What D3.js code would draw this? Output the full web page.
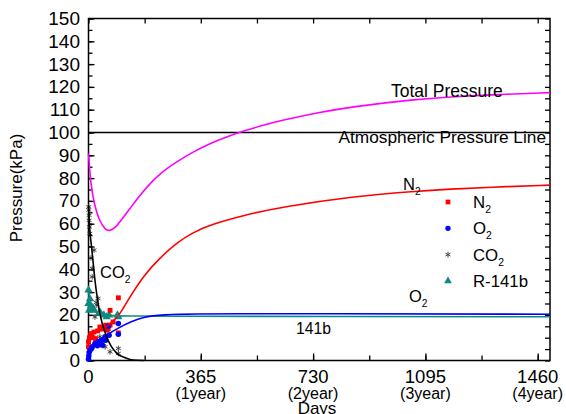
<!DOCTYPE html>
<html>
<head>
<meta charset="utf-8">
<script src="https://cdn.jsdelivr.net/npm/d3@7"></script>
<style>
body { margin: 0; background: #fff; }
text { font-family: "Liberation Sans", Arial, sans-serif; fill: #000; }
</style>
</head>
<body>
<svg id="ChartSvg" width="566" height="414"></svg>
<script>
// curves (days, kPa)
var TotalDays = [0, 7, 18, 35, 55, 68, 85, 102, 135, 167, 200, 232, 286, 340, 395, 449, 503, 568, 633, 750, 849, 1066, 1174, 1300, 1500];
var TotalP    = [90.8, 77.6, 68.9, 61.2, 57.3, 56.8, 58, 60.8, 66.7, 72.5, 77.6, 82, 87.1, 91.5, 95.2, 98.1, 100.6, 103.2, 105.5, 108.8, 111.2, 114.6, 115.6, 116.5, 117.5];
var N2Days = [40, 60, 77, 100, 113, 140, 178, 232, 286, 340, 395, 503, 633, 849, 1066, 1174, 1300, 1500];
var N2P    = [13, 15, 16.9, 20, 23, 29, 37, 45, 51.6, 56.2, 59.5, 63.7, 67.4, 71.8, 74.3, 75.2, 76, 76.9];
var O2Days = [0, 5, 18, 50, 94, 137, 180, 250, 350, 500, 800, 1500];
var O2P    = [1, 4.5, 7.5, 10.4, 14, 16.9, 18.9, 20, 20.4, 20.5, 20.5, 20.3];
var CO2Days = [0, 5, 10, 21, 37, 59, 92, 120, 145, 180];
var CO2P    = [68, 56, 49.8, 35.2, 20.6, 10.4, 3.1, 1.2, 0.2, 0];
var R141Days = [0, 5, 15, 30, 50, 80, 150, 300, 800, 1500];
var R141P    = [30.5, 26, 22.5, 20.8, 20, 19.7, 19.5, 19.4, 19.3, 19.2];
var AtmP = 100;

// measured points
var N2PtDays = [0, 0, 3, 7, 10, 14, 18, 23, 30, 37, 45, 54, 56, 61, 64, 70, 70, 80, 97, 97];
var N2PtP    = [6, 8.2, 10, 11.1, 11.8, 10, 12.5, 9.6, 13, 14.7, 13.8, 15, 15.5, 13.3, 14, 15.5, 22, 16.9, 27.5, 12.1];
var O2PtDays = [0, 1, 2, 5, 10, 12, 21, 29, 32, 43, 45, 54, 56, 64, 67, 97, 97];
var O2PtP    = [0.5, 2, 3.5, 4.5, 5.3, 6, 7.5, 6.5, 8.2, 8.9, 6.7, 10.4, 8.9, 15, 11.1, 16.2, 11.5];
var CO2PtDays = [1, 1, 2, 2, 3, 4, 8, 18, 12, 12, 31, 27, 25, 21, 37, 48, 54, 70, 97, 97];
var CO2PtP    = [67.4, 66, 63.7, 61.5, 58.6, 55.7, 45, 48.4, 40.4, 36.7, 27.2, 24.3, 25.5, 19.1, 10.4, 7.5, 6, 3.8, 5.3, 3.1];
var R141PtDays = [0, 0, 2, 5, 8, 16, 18, 34, 37, 50, 59, 67, 94, 97];
var R141PtP    = [30.9, 25, 22, 27, 24, 22.8, 22, 20.6, 21.3, 19.9, 19.1, 19.9, 19.9, 19.1];

var XTicks = [0, 365, 730, 1095, 1460];
var XTickYears = ["", "(1year)", "(2year)", "(3year)", "(4year)"];
var YTicks = [0, 10, 20, 30, 40, 50, 60, 70, 80, 90, 100, 110, 120, 130, 140, 150];

var Svg = d3.select("#ChartSvg");
var X = d3.scaleLinear().domain([0, 1500]).range([88.5, 550]);
var Y = d3.scaleLinear().domain([0, 150]).range([360.5, 18.5]);

function Zip(Days, Vals)
{
	return Days.map(function(d, i) { return [d, Vals[i]]; });
}

function DrawAxes()
{
	var MinorX = d3.range(0, 1500, 182.5);
	var MinorY = d3.range(0, 151, 5);

	Svg.append("g").attr("transform", "translate(0," + Y(0) + ")")
		.call(d3.axisTop(X).tickValues(MinorX).tickSize(5).tickFormat(""));
	Svg.append("g").attr("transform", "translate(0," + Y(0) + ")")
		.call(d3.axisTop(X).tickValues(XTicks).tickSize(7).tickFormat(""));
	Svg.append("g").attr("transform", "translate(0," + Y(150) + ")")
		.call(d3.axisBottom(X).tickValues(MinorX).tickSize(5).tickFormat(""));
	Svg.append("g").attr("transform", "translate(" + X(0) + ",0)")
		.call(d3.axisRight(Y).tickValues(MinorY).tickSize(4).tickFormat(""));
	Svg.append("g").attr("transform", "translate(" + X(0) + ",0)")
		.call(d3.axisRight(Y).tickValues(YTicks).tickSize(6).tickFormat(""));
	Svg.append("g").attr("transform", "translate(" + X(1500) + ",0)")
		.call(d3.axisLeft(Y).tickValues(MinorY).tickSize(5).tickFormat(""));

	Svg.selectAll(".domain").remove();
	Svg.selectAll(".tick line").attr("stroke", "#000").attr("stroke-width", 1.3);

	Svg.append("rect")
		.attr("x", X(0)).attr("y", Y(150))
		.attr("width", X(1500) - X(0)).attr("height", Y(0) - Y(150))
		.attr("fill", "none").attr("stroke", "#000").attr("stroke-width", 1.5);

	Svg.selectAll(".ylab").data(YTicks).enter().append("text")
		.attr("class", "ylab")
		.attr("x", 80).attr("y", function(d) { return Y(d) + 6.5; })
		.attr("text-anchor", "end").style("font-size", "19px")
		.text(function(d) { return d; });

	Svg.selectAll(".xlab").data(XTicks).enter().append("text")
		.attr("class", "xlab")
		.attr("x", function(d) { return X(d); }).attr("y", 383)
		.attr("text-anchor", "middle").style("font-size", "18.5px")
		.text(function(d) { return d; });

	Svg.selectAll(".xyear").data(XTicks).enter().append("text")
		.attr("class", "xyear")
		.attr("x", function(d) { return X(d); }).attr("y", 399)
		.attr("text-anchor", "middle").style("font-size", "16px")
		.text(function(d, i) { return XTickYears[i]; });

	Svg.append("text").attr("x", 317).attr("y", 414)
		.attr("text-anchor", "middle").style("font-size", "17px").text("Days");

	Svg.append("text")
		.attr("transform", "translate(22,188) rotate(-90)")
		.attr("text-anchor", "middle").style("font-size", "17px")
		.text("Pressure(kPa)");
}

function DrawCurve(Days, Vals, Colour, Curve)
{
	var Line = d3.line()
		.x(function(d) { return X(d[0]); })
		.y(function(d) { return Y(d[1]); })
		.curve(Curve || d3.curveMonotoneX);
	Svg.append("path")
		.datum(Zip(Days, Vals))
		.attr("d", Line)
		.attr("fill", "none")
		.attr("stroke", Colour)
		.attr("stroke-width", 1.6);
}

function DrawPoints(Days, Vals, Symbol, Size, Colour, Stroked)
{
	Svg.append("g").selectAll("path")
		.data(Zip(Days, Vals))
		.enter()
		.append("path")
		.attr("d", d3.symbol().type(Symbol).size(Size))
		.attr("transform", function(d) { return "translate(" + X(d[0]) + "," + Y(d[1]) + ")"; })
		.attr("fill", Stroked ? "none" : Colour)
		.attr("stroke", Stroked ? Colour : "none")
		.attr("stroke-width", 0.9);
}

function Label(Xp, Yp, Main, Sub, Size, Anchor)
{
	var T = Svg.append("text").attr("x", Xp).attr("y", Yp)
		.attr("text-anchor", Anchor || "start").style("font-size", Size + "px");
	T.append("tspan").text(Main);
	if (Sub)
	{
		T.append("tspan").attr("dy", 5).style("font-size", (Size * 0.62) + "px").text(Sub);
	}
}

function DrawLegend()
{
	var Items = [
		{ name: "N", sub: "2", sym: d3.symbolSquare, size: 22, col: "#ff0000", stroked: false },
		{ name: "O", sub: "2", sym: d3.symbolCircle, size: 22, col: "#0000ff", stroked: false },
		{ name: "CO", sub: "2", sym: d3.symbolAsterisk, size: 22, col: "#444", stroked: true },
		{ name: "R-141b", sub: "", sym: d3.symbolTriangle, size: 26, col: "#0f8a80", stroked: false }
	];
	Items.forEach(function(d, i)
	{
		var Yp = 202 + i * 26.3;
		Svg.append("path")
			.attr("d", d3.symbol().type(d.sym).size(d.size))
			.attr("transform", "translate(448," + Yp + ")")
			.attr("fill", d.stroked ? "none" : d.col)
			.attr("stroke", d.stroked ? d.col : "none");
		Label(473, Yp + 6, d.name, d.sub, 16.8);
	});
}

DrawAxes();

Svg.append("line")
	.attr("x1", X(0)).attr("x2", X(1500))
	.attr("y1", Y(AtmP)).attr("y2", Y(AtmP))
	.attr("stroke", "#000").attr("stroke-width", 1.5);

DrawPoints(R141PtDays, R141PtP, d3.symbolTriangle, 30, "#0f8a80", false);
DrawPoints(CO2PtDays, CO2PtP, d3.symbolAsterisk, 22, "#333", true);
DrawPoints(N2PtDays, N2PtP, d3.symbolSquare, 24, "#ff0000", false);
DrawPoints(O2PtDays, O2PtP, d3.symbolCircle, 24, "#0000ff", false);

DrawCurve(TotalDays, TotalP, "#ff00ff", d3.curveBasis);
DrawCurve(N2Days, N2P, "#ff0000", d3.curveBasis);
DrawCurve(R141Days, R141P, "#0f8a80");
DrawCurve(O2Days, O2P, "#0000ff");
DrawCurve(CO2Days, CO2P, "#000");

Label(391, 97, "Total Pressure", "", 17.5);
Label(546, 143, "Atmospheric Pressure Line", "", 17.3, "end");
Label(403, 190, "N", "2", 16.5);
Label(100, 277.5, "CO", "2", 16.5);
Label(409, 301.5, "O", "2", 16.5);
Label(296, 334, "141b", "", 15.7);
DrawLegend();
</script>
</body>
</html>
